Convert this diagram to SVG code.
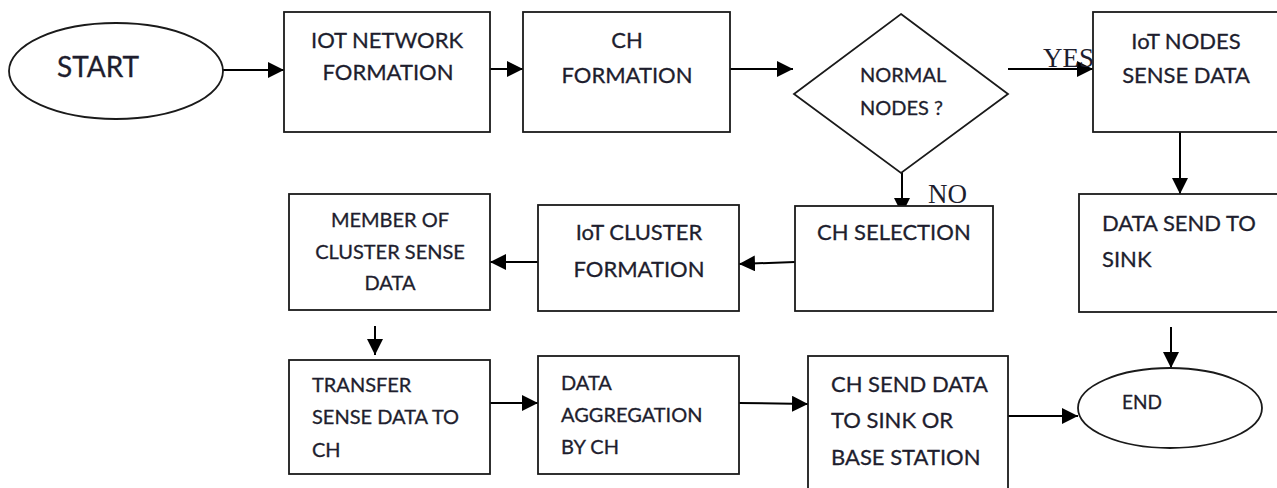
<svg xmlns="http://www.w3.org/2000/svg" width="1277" height="488" viewBox="0 0 1277 488">
  <style>
    .shape { fill: #ffffff; stroke: #1a1a1a; stroke-width: 1.8; }
    .conn { fill: none; stroke: #000000; stroke-width: 2; marker-end: url(#arrow); }
    .lbl { font-family: Lato, "Open Sans", "Liberation Sans", sans-serif; font-size: 22px; fill: #1e1e2e; stroke: #1e1e2e; stroke-width: 0.3; }
    .mid { text-anchor: middle; }
    .serif { font-family: "Liberation Serif", "Times New Roman", serif; font-size: 27px; fill: #1e1e2e; }
  </style>
  <defs>
    <marker id="arrow" markerUnits="userSpaceOnUse" viewBox="0 0 16 16" refX="16" refY="8" markerWidth="16" markerHeight="16" orient="auto">
      <path d="M0,0 L16,8 L0,16 z" fill="#000000"/>
    </marker>
  </defs>
  <rect width="1277" height="488" fill="#ffffff"/>

  <!-- connectors -->
  <g id="connectors">
    <line class="conn" x1="223" y1="70" x2="284" y2="70"/>
    <line class="conn" x1="490" y1="69" x2="523" y2="69"/>
    <line class="conn" x1="730" y1="69" x2="793" y2="69"/>
    <line class="conn" x1="1008" y1="69" x2="1093" y2="69"/>
    <line class="conn" x1="1180" y1="132" x2="1180" y2="194"/>
    <line class="conn" x1="902" y1="158" x2="902" y2="214"/>
    <line class="conn" x1="795" y1="262" x2="739" y2="264"/>
    <line class="conn" x1="538" y1="262" x2="490" y2="262"/>
    <line class="conn" x1="375" y1="326" x2="375" y2="355"/>
    <line class="conn" x1="490" y1="403" x2="538" y2="403"/>
    <line class="conn" x1="739" y1="403" x2="808" y2="404"/>
    <line class="conn" x1="1007" y1="416" x2="1078" y2="416"/>
    <line class="conn" x1="1171" y1="327" x2="1171" y2="368"/>
    <text class="serif" x="1043" y="67">YES</text>
    <text class="serif" x="928" y="203">NO</text>
  </g>

  <g id="start">
    <ellipse class="shape" cx="116" cy="71" rx="107" ry="48"/>
    <text class="lbl" x="57" y="77" style="font-size:28px">START</text>
  </g>

  <g id="iot-network-formation">
    <rect class="shape" x="284" y="12" width="206" height="120"/>
    <text class="lbl mid" x="387" y="48">IOT NETWORK</text>
    <text class="lbl mid" x="388" y="80">FORMATION</text>
  </g>

  <g id="ch-formation">
    <rect class="shape" x="523" y="12" width="207" height="120"/>
    <text class="lbl mid" x="627" y="48">CH</text>
    <text class="lbl mid" x="627" y="83">FORMATION</text>
  </g>

  <g id="normal-nodes">
    <polygon class="shape" points="901,14 1008,94 901,173 794,94"/>
    <text class="lbl" x="860" y="82" style="font-size:20px">NORMAL</text>
    <text class="lbl" x="860" y="115" style="font-size:20px">NODES ?</text>
  </g>

  <g id="iot-nodes-sense-data">
    <rect class="shape" x="1093" y="12" width="200" height="120"/>
    <text class="lbl mid" x="1186" y="49">IoT NODES</text>
    <text class="lbl mid" x="1186" y="83">SENSE DATA</text>
  </g>

  <g id="ch-selection">
    <rect class="shape" x="795" y="206" width="198" height="105"/>
    <text class="lbl" x="817" y="240">CH SELECTION</text>
  </g>

  <g id="data-send-to-sink">
    <rect class="shape" x="1079" y="194" width="210" height="118"/>
    <text class="lbl" x="1102" y="231">DATA SEND TO</text>
    <text class="lbl" x="1102" y="267">SINK</text>
  </g>

  <g id="iot-cluster-formation">
    <rect class="shape" x="538" y="205" width="201" height="106"/>
    <text class="lbl mid" x="639" y="240">IoT CLUSTER</text>
    <text class="lbl mid" x="639" y="277">FORMATION</text>
  </g>

  <g id="member-of-cluster">
    <rect class="shape" x="289" y="194" width="201" height="116"/>
    <text class="lbl mid" x="390" y="227" style="font-size:20px">MEMBER OF</text>
    <text class="lbl mid" x="390" y="259" style="font-size:20px">CLUSTER SENSE</text>
    <text class="lbl mid" x="390" y="290" style="font-size:20px">DATA</text>
  </g>

  <g id="transfer-sense-data">
    <rect class="shape" x="289" y="360" width="201" height="114"/>
    <text class="lbl" x="312" y="392" style="font-size:20px">TRANSFER</text>
    <text class="lbl" x="312" y="424" style="font-size:20px">SENSE DATA TO</text>
    <text class="lbl" x="312" y="457" style="font-size:20px">CH</text>
  </g>

  <g id="data-aggregation">
    <rect class="shape" x="538" y="356" width="201" height="118"/>
    <text class="lbl" x="561" y="390" style="font-size:20px">DATA</text>
    <text class="lbl" x="561" y="422" style="font-size:20px">AGGREGATION</text>
    <text class="lbl" x="561" y="454" style="font-size:20px">BY CH</text>
  </g>

  <g id="ch-send-data">
    <rect class="shape" x="808" y="356" width="200" height="140"/>
    <text class="lbl" x="831" y="392">CH SEND DATA</text>
    <text class="lbl" x="831" y="428">TO SINK OR</text>
    <text class="lbl" x="831" y="465">BASE STATION</text>
  </g>

  <g id="end">
    <ellipse class="shape" cx="1170" cy="408" rx="92" ry="40"/>
    <text class="lbl" x="1122" y="409" style="font-size:19px">END</text>
  </g>
</svg>
